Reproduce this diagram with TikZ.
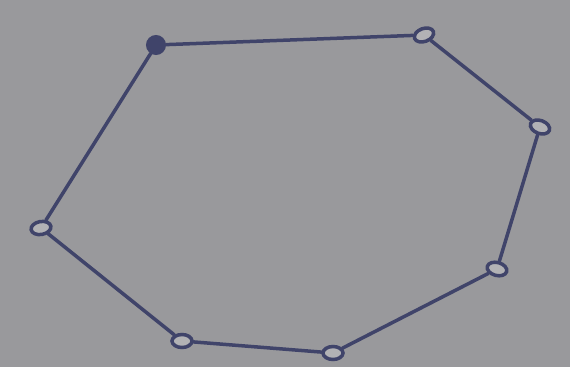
\documentclass[tikz,border=0pt]{standalone}
\usepackage{xcolor}
\usetikzlibrary{
    positioning,
    calc,
    shapes.geometric
}
\definecolor{paper}{RGB}{153,153,156}
\definecolor{pencil}{RGB}{64,68,106}
\tikzset{
    vertexring/.style={
        draw=pencil,
        ellipse,
        line width=3.5pt,
        minimum width=20pt,
        minimum height=13pt,
        inner sep=0pt,
        fill=paper!75!white
    }
}
\tikzset{
    vertexdot/.style={
        draw=pencil,
        circle,
        line width=3pt,
        minimum size=17pt,
        inner sep=0pt,
        fill=pencil
    }
}
\tikzset{
    link/.style={
        draw=pencil,
        line width=3.5pt,
        line cap=round
    }
}

\begin{document}
\begin{tikzpicture}[
    x=1pt,
    y=-1pt
]

\fill[paper] (0,0) rectangle (570,367);
\useasboundingbox (0,0) rectangle (570,367);

\node[vertexdot] (v1) at (156,45) {};
\node[vertexring, rotate=20] (v2) at (424,35) {};
\node[vertexring, rotate=-20] (v3) at (540,127) {};
\node[vertexring, rotate=-15] (v4) at (497,269) {};
\node[vertexring] (v5) at (333,353) {};
\node[vertexring] (v6) at (182,341) {};
\node[vertexring, rotate=10] (v7) at (41,228) {};

\draw[link] (v1) -- (v2);
\draw[link] (v2) -- (v3);
\draw[link] (v3) -- (v4);
\draw[link] (v4) -- (v5);
\draw[link] (v5) -- (v6);
\draw[link] (v6) -- (v7);
\draw[link] (v7) -- (v1);

\end{tikzpicture}
\end{document}
